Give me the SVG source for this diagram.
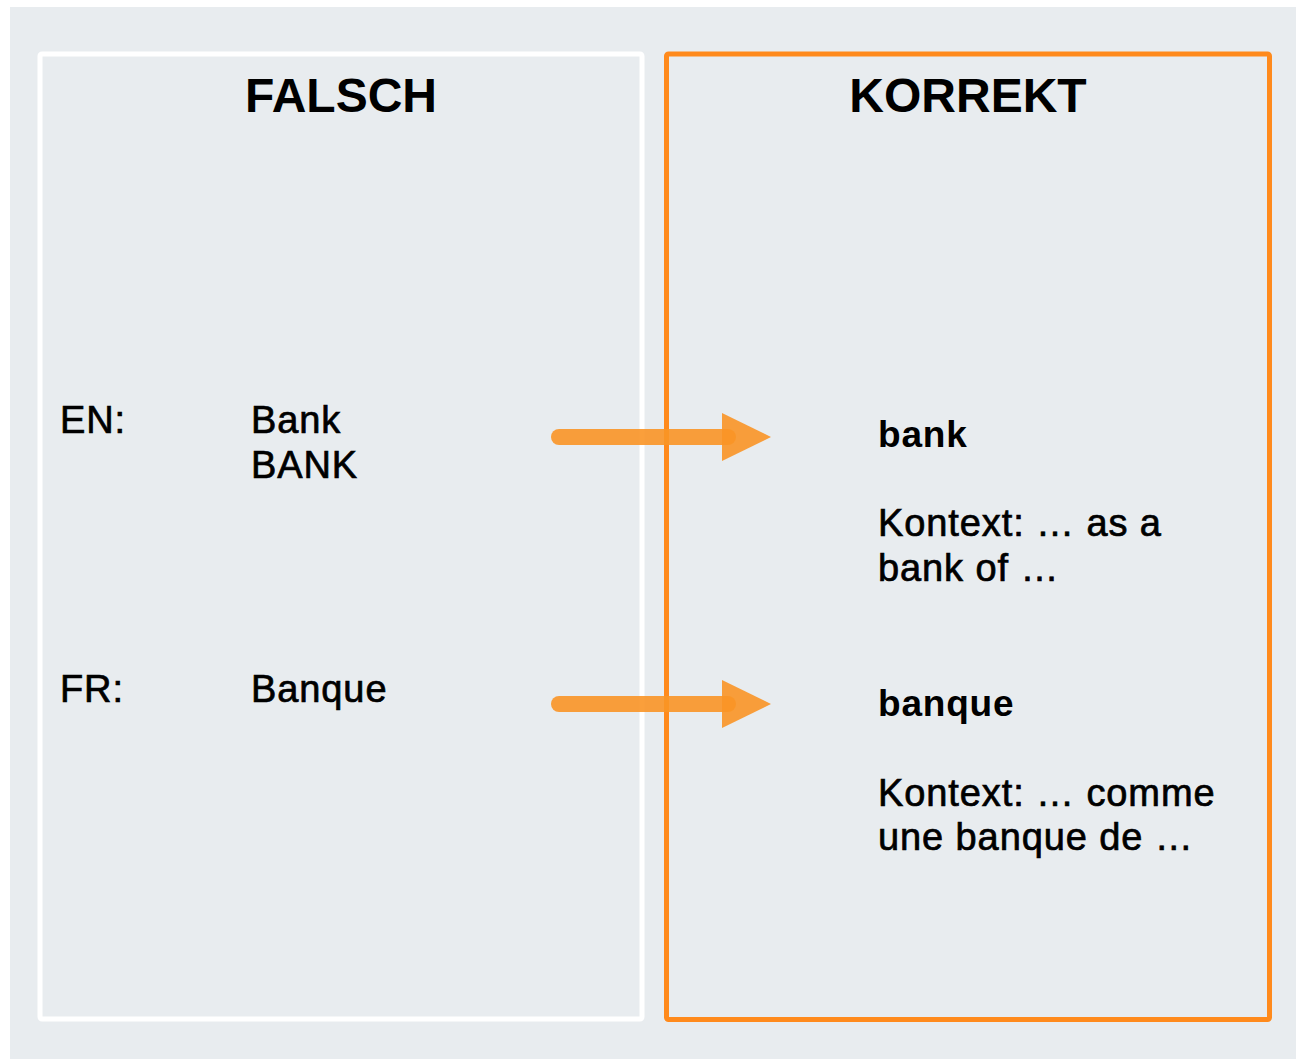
<svg xmlns="http://www.w3.org/2000/svg" width="1299" height="1059" viewBox="0 0 1299 1059">
<style>
.t{font-family:"Liberation Sans",Arial,sans-serif;fill:#000;}
.h{font-size:48px;font-weight:bold;}
.r{font-size:38px;letter-spacing:0.9px;stroke:#000;stroke-width:0.7px;}
.b{font-size:37px;font-weight:bold;letter-spacing:0.8px;}
.arrow{fill:#F99526;fill-opacity:0.9;}
.shaft{stroke:#F99526;stroke-opacity:0.9;stroke-width:16;stroke-linecap:round;fill:none;}
</style>
<rect x="0" y="0" width="1299" height="1059" fill="#ffffff"/>
<rect x="10" y="7" width="1286" height="1052" fill="#E8ECEF"/>
<g id="falsch">
<rect x="40" y="54" width="602" height="965" rx="2" fill="none" stroke="#ffffff" stroke-width="5"/>
<text class="t h" x="341" y="112" text-anchor="middle">FALSCH</text>
<text class="t r" x="60" y="433">EN:</text>
<text class="t r" x="251" y="433">Bank</text>
<text class="t r" x="251" y="478">BANK</text>
<text class="t r" x="60" y="702">FR:</text>
<text class="t r" x="251" y="702">Banque</text>
</g>
<g id="korrekt">
<rect x="666.5" y="54" width="603" height="965.5" rx="2" fill="none" stroke="#FF8A1C" stroke-width="5"/>
<text class="t h" x="968" y="112" text-anchor="middle">KORREKT</text>
<text class="t b" x="878" y="447">bank</text>
<text class="t r" x="878" y="536">Kontext: … as a</text>
<text class="t r" x="878" y="581">bank of …</text>
<text class="t b" x="878" y="716">banque</text>
<text class="t r" x="878" y="806">Kontext: … comme</text>
<text class="t r" x="878" y="850">une banque de …</text>
</g>
<g id="connectors">
<line class="shaft" x1="559" y1="437" x2="728" y2="437"/>
<polygon class="arrow" points="722,413 771,437 722,461"/>
<line class="shaft" x1="559" y1="704" x2="728" y2="704"/>
<polygon class="arrow" points="722,680 771,704 722,728"/>
</g>
</svg>
